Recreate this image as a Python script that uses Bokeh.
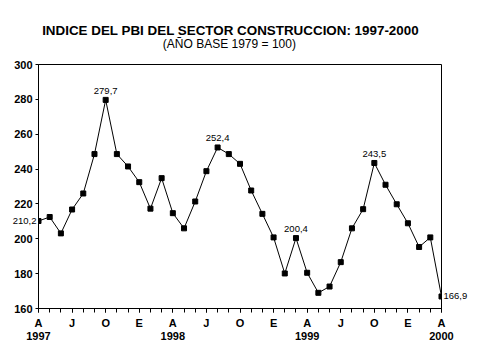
from bokeh.plotting import figure
from bokeh.models import Range1d, FixedTicker, ColumnDataSource, LinearAxis
from bokeh.embed import file_html
from bokeh.resources import INLINE
from bokeh.core.properties import value as V

# ---- data ----
title_text = "INDICE  DEL PBI DEL SECTOR CONSTRUCCION: 1997-2000"
subtitle_text = "(AÑO BASE 1979 = 100)"

# monthly index, April 1997 .. April 2000
values = [210.2, 212.5, 203.1, 216.8, 226.0, 248.6, 279.7, 248.6, 241.5, 232.5,
          217.3, 234.8, 214.7, 206.0, 221.4, 238.8, 252.4, 248.6, 243.0, 227.7,
          214.3, 200.8, 180.1, 200.4, 180.5, 169.0, 172.6, 186.6, 206.0, 217.0,
          243.5, 231.0, 219.8, 208.9, 195.3, 200.8, 166.9]
month_letters = ["A", "J", "O", "E"]
years = ["1997", "1998", "1999", "2000"]
y_ticks = [160, 180, 200, 220, 240, 260, 280, 300]
top_labelled = [6, 16, 23, 30]
left_labelled = 0
right_labelled = 36

x = list(range(len(values)))

def fmt(v):
    return f"{v:.1f}".replace(".", ",")

tick_pos = list(range(0, len(values), 3))
overrides = {}
for k, t in enumerate(tick_pos):
    lab = month_letters[k % 4]
    if k % 4 == 0:
        lab = lab + "\n" + years[k // 4]
    overrides[t] = lab

W, H = 479, 359
p = figure(width=W, height=H, output_backend="svg", toolbar_location=None,
           x_range=Range1d(0, len(values) - 1), y_range=Range1d(160, 300),
           min_border_left=38, min_border_right=38, min_border_top=64, min_border_bottom=51)
p.background_fill_color = "white"
p.border_fill_color = "white"
p.outline_line_color = "black"
p.outline_line_width = 1
p.xgrid.visible = False
p.ygrid.visible = False

FONT = "Liberation Sans"

xa = p.below[0]
ya = p.left[0]

# x axis
xa.ticker = FixedTicker(ticks=tick_pos, minor_ticks=x)
xa.major_label_overrides = overrides
xa.major_tick_in = 0
xa.major_tick_out = 4
xa.minor_tick_in = 0
xa.minor_tick_out = 4
xa.major_label_standoff = 4
xa.major_label_text_font = FONT
xa.major_label_text_font_style = "bold"
xa.major_label_text_font_size = "11px"
xa.major_label_text_line_height = 1.1
xa.major_label_text_color = "black"
xa.axis_line_color = "black"
xa.major_tick_line_color = "black"
xa.minor_tick_line_color = "black"

# y axis
ya.ticker = FixedTicker(ticks=y_ticks, minor_ticks=[])
ya.major_tick_in = 0
ya.major_tick_out = 3
ya.minor_tick_line_color = None
ya.major_label_standoff = 3
ya.major_label_text_font = FONT
ya.major_label_text_font_style = "bold"
ya.major_label_text_font_size = "11px"
ya.major_label_text_color = "black"
ya.axis_line_color = "black"
ya.major_tick_line_color = "black"

# label-only axes: texts outside the frame that must not be clipped
def label_axis(pos, text, standoff, size, style="normal"):
    return LinearAxis(ticker=FixedTicker(ticks=[pos], minor_ticks=[]),
                      major_label_overrides={pos: text},
                      axis_line_color=None, major_tick_line_color=None, minor_tick_line_color=None,
                      major_tick_in=0, major_tick_out=0, major_label_standoff=standoff,
                      major_label_text_font=FONT, major_label_text_font_size=size,
                      major_label_text_font_style=style, major_label_text_color="black")

# subtitle (nearest the frame), then the main title above it
p.add_layout(label_axis(17.05, subtitle_text, 14, "12px"), "above")
p.add_layout(label_axis(17.33, title_text, -4, "13.4px", "bold"), "above")

# end-point value labels
p.add_layout(label_axis(values[right_labelled], fmt(values[right_labelled]), 2, "9.5px"), "right")
# stacked outside the main y axis; negative standoff pulls the label back next to the point
p.add_layout(label_axis(values[left_labelled], fmt(values[left_labelled]), -25, "9.5px"), "left")

src = ColumnDataSource(dict(x=x, y=values))
p.line("x", "y", source=src, line_color="black", line_width=1)
p.scatter("x", "y", source=src, marker="square", size=5, fill_color="black", line_color="black")

top_src = ColumnDataSource(dict(x=[x[i] for i in top_labelled], y=[values[i] for i in top_labelled],
                                t=[fmt(values[i]) for i in top_labelled]))
p.text("x", "y", text="t", source=top_src, text_align="center", text_baseline="alphabetic",
       y_offset=-9, text_font=V(FONT), text_font_size="9.5px", text_color="black")

open("out.html", "w").write(file_html(p, INLINE))
